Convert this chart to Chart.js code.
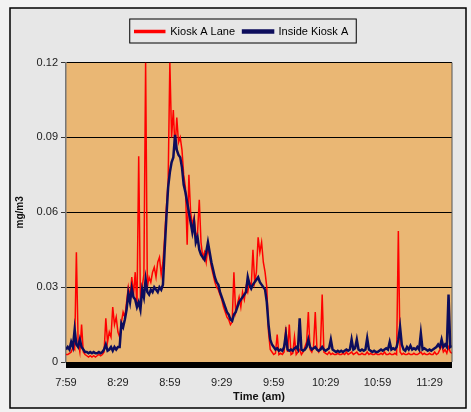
<!DOCTYPE html>
<html lang="en">
<head>
    <meta charset="UTF-8">
    <title>Kiosk A</title>
    <script src="https://cdn.jsdelivr.net/npm/chart.js"></script>
    <style>
        html, body { margin: 0; padding: 0; background: #f2f2f2; }
        .chart-box { width: 471px; height: 412px; }
    </style>
</head>
<body>
    <div class="chart-box">
        <canvas id="kioskChart" width="471" height="412"></canvas>
    </div>
    <script>
        // readings once a minute, first one at 7:59 am (mg/m3)
        const startMinute = 7 * 60 + 59;
        const tickMinutes = [0, 30, 60, 90, 120, 150, 180, 210];
        const seriesNames = ['Kiosk A Lane', 'Inside Kiosk A'];

        const kioskLane = [
            0.003, 0.003, 0.0035, 0.004, 0.006, 0.005, 0.044, 0.008, 0.004, 0.015,
            0.004, 0.003, 0.0025, 0.002, 0.0025, 0.002, 0.0025, 0.002, 0.0025, 0.003,
            0.0025, 0.003, 0.004, 0.0175, 0.008, 0.012, 0.010, 0.022, 0.015, 0.018,
            0.012, 0.010, 0.016, 0.020, 0.018, 0.024, 0.030, 0.026, 0.034, 0.027,
            0.036, 0.022, 0.0825, 0.025, 0.030, 0.035, 0.12, 0.030, 0.034, 0.032,
            0.036, 0.038, 0.034, 0.040, 0.042, 0.035, 0.040, 0.050, 0.062, 0.072,
            0.12, 0.090, 0.101, 0.085, 0.098, 0.088, 0.090, 0.085, 0.075, 0.070,
            0.047, 0.075, 0.060, 0.055, 0.058, 0.050, 0.052, 0.065, 0.048, 0.042,
            0.044, 0.040, 0.046, 0.042, 0.038, 0.035, 0.032, 0.030, 0.029, 0.027,
            0.025, 0.022, 0.020, 0.018, 0.017, 0.015, 0.016, 0.036, 0.020, 0.023,
            0.026, 0.022, 0.028, 0.025, 0.030, 0.028, 0.032, 0.030, 0.045, 0.032,
            0.036, 0.050, 0.044, 0.048, 0.040, 0.036, 0.030, 0.012, 0.005, 0.004,
            0.003, 0.0035, 0.011, 0.003, 0.0035, 0.003, 0.004, 0.014, 0.004, 0.015,
            0.003, 0.0035, 0.010, 0.003, 0.004, 0.005, 0.003, 0.004, 0.006, 0.008,
            0.020, 0.005, 0.004, 0.006, 0.020, 0.005, 0.004, 0.006, 0.027, 0.004,
            0.0035, 0.003, 0.004, 0.003, 0.0035, 0.003, 0.003, 0.0035, 0.003, 0.003,
            0.0035, 0.003, 0.004, 0.003, 0.0035, 0.004, 0.003, 0.0035, 0.004, 0.003,
            0.003, 0.0035, 0.003, 0.003, 0.004, 0.003, 0.0035, 0.003, 0.003, 0.0035,
            0.003, 0.003, 0.0035, 0.003, 0.004, 0.003, 0.003, 0.0035, 0.003, 0.003,
            0.0035, 0.003, 0.0525, 0.004, 0.003, 0.0035, 0.003, 0.003, 0.0035, 0.003,
            0.003, 0.0035, 0.003, 0.003, 0.0035, 0.004, 0.003, 0.0035, 0.003, 0.003,
            0.0035, 0.003, 0.003, 0.004, 0.003, 0.0035, 0.005, 0.007, 0.004, 0.005,
            0.0035, 0.006, 0.004, 0.0035
        ];

        const insideKiosk = [
            0.005, 0.006, 0.005, 0.008, 0.006, 0.013, 0.007, 0.006, 0.009, 0.006,
            0.005, 0.004, 0.004, 0.0035, 0.004, 0.0035, 0.004, 0.0035, 0.0035, 0.004,
            0.0035, 0.004, 0.005, 0.007, 0.0045, 0.005, 0.006, 0.0045, 0.006, 0.005,
            0.006, 0.006, 0.0155, 0.014, 0.017, 0.021, 0.0275, 0.024, 0.0295, 0.026,
            0.025, 0.022, 0.024, 0.021, 0.029, 0.026, 0.033, 0.028, 0.027, 0.029,
            0.028, 0.030, 0.029, 0.028, 0.030, 0.029, 0.031, 0.045, 0.058, 0.070,
            0.076, 0.080, 0.082, 0.091, 0.085, 0.083, 0.082, 0.078, 0.071, 0.068,
            0.064, 0.060, 0.056, 0.052, 0.056, 0.048, 0.050, 0.045, 0.043, 0.042,
            0.041, 0.044, 0.048, 0.044, 0.040, 0.037, 0.034, 0.032, 0.031, 0.028,
            0.026, 0.024, 0.022, 0.020, 0.019, 0.017, 0.0165, 0.019, 0.020, 0.022,
            0.024, 0.025, 0.026, 0.027, 0.028, 0.034, 0.031, 0.0295, 0.031, 0.032,
            0.033, 0.034, 0.032, 0.031, 0.030, 0.029, 0.024, 0.015, 0.009, 0.007,
            0.006, 0.005, 0.0055, 0.0045, 0.005, 0.0045, 0.006, 0.011, 0.005, 0.0045,
            0.005, 0.0045, 0.0055, 0.006, 0.005, 0.0175, 0.005, 0.0045, 0.005, 0.006,
            0.009, 0.006, 0.005, 0.0055, 0.006, 0.005, 0.0045, 0.005, 0.006, 0.005,
            0.0045, 0.005, 0.0055, 0.009, 0.005, 0.0045, 0.004, 0.0045, 0.004, 0.0045,
            0.004, 0.0045, 0.005, 0.0045, 0.005, 0.009, 0.005, 0.0055, 0.009, 0.005,
            0.0045, 0.005, 0.0045, 0.005, 0.0095, 0.005, 0.0045, 0.004, 0.0045, 0.004,
            0.004, 0.0045, 0.005, 0.0045, 0.005, 0.0055, 0.005, 0.008, 0.005, 0.0055,
            0.005, 0.006, 0.009, 0.014, 0.007, 0.005, 0.0045, 0.006, 0.005, 0.0065,
            0.005, 0.0055, 0.005, 0.006, 0.005, 0.0115, 0.005, 0.0055, 0.005, 0.0045,
            0.005, 0.0045, 0.005, 0.0055, 0.006, 0.007, 0.006, 0.009, 0.006, 0.007,
            0.006, 0.027, 0.006, 0.0065
        ];

        const yTicks = [0, 0.03, 0.06, 0.09, 0.12];

        function timeLabel(v) {
            const t = startMinute + v;
            const m = t % 60;
            return Math.floor(t / 60) + ':' + (m < 10 ? '0' : '') + m;
        }

        const FONT = '"Liberation Sans", Arial, sans-serif';

        // frame, plot background, bottom bar, legend box
        const framePlugin = {
            id: 'frame',
            beforeDraw(chart) {
                const c = chart.ctx;
                const a = chart.chartArea;
                c.save();
                c.fillStyle = '#f2f2f2';
                c.fillRect(0, 0, chart.width, chart.height);
                c.fillStyle = '#e7e7e7';
                c.fillRect(10, 8, 456, 400);
                c.strokeStyle = '#000';
                c.lineWidth = 1.5;
                c.strokeRect(10, 8, 456, 400);
                c.fillStyle = '#eab774';
                c.fillRect(a.left, a.top, a.right - a.left, a.bottom - a.top);
                c.restore();
            },
            afterDatasetsDraw(chart) {
                const c = chart.ctx;
                const a = chart.chartArea;
                c.save();
                c.fillStyle = '#000';
                c.fillRect(a.left, a.bottom, a.right - a.left, 6);
                c.strokeStyle = '#555';
                c.lineWidth = 1;
                c.beginPath();
                c.moveTo(a.right, a.top);
                c.lineTo(a.right, a.bottom);
                c.stroke();
                c.restore();
            },
            afterDraw(chart) {
                const boxes = chart.legend.legendHitBoxes;
                if (!boxes || !boxes.length) return;
                const c = chart.ctx;
                let l = Infinity, r = -Infinity, t = Infinity, b = -Infinity;
                boxes.forEach(h => {
                    l = Math.min(l, h.left); r = Math.max(r, h.left + h.width);
                    t = Math.min(t, h.top); b = Math.max(b, h.top + h.height);
                });
                c.save();
                c.strokeStyle = '#000';
                c.lineWidth = 1;
                c.strokeRect(l - 5, t - 7, r - l + 13, b - t + 13);
                c.restore();
            }
        };

        const ctx = document.getElementById('kioskChart').getContext('2d');
        const kioskChart = new Chart(ctx, {
            type: 'line',
            data: {
                datasets: [{
                    label: seriesNames[0],
                    data: kioskLane.map((v, i) => ({ x: i, y: v })),
                    borderColor: '#ff0000',
                    backgroundColor: '#ff0000',
                    borderWidth: 1.5,
                    pointRadius: 0,
                    tension: 0,
                    order: 1
                }, {
                    label: seriesNames[1],
                    data: insideKiosk.map((v, i) => ({ x: i, y: v })),
                    borderColor: '#0d0d5c',
                    backgroundColor: '#0d0d5c',
                    borderWidth: 2.5,
                    pointRadius: 0,
                    tension: 0,
                    order: 0
                }]
            },
            options: {
                responsive: false,
                animation: false,
                devicePixelRatio: 1,
                // left padding is wider so the legend sits a little right of centre
                layout: { padding: { left: 31, right: 19, top: 18, bottom: 6 } },
                plugins: {
                    legend: {
                        position: 'top',
                        reverse: true,
                        labels: {
                            boxWidth: 30,
                            boxHeight: 2,
                            padding: 8,
                            color: '#000',
                            font: { family: FONT, size: 11 }
                        }
                    },
                    // empty spacer between legend and plot
                    subtitle: {
                        display: true,
                        text: '',
                        weight: 900,
                        padding: 0,
                        font: { size: 13 }
                    },
                    tooltip: { enabled: false }
                },
                scales: {
                    x: {
                        type: 'linear',
                        min: 0,
                        max: 223,
                        afterBuildTicks(scale) {
                            scale.ticks = tickMinutes.map(v => ({ value: v }));
                        },
                        afterFit(scale) { scale.height = 44; },
                        grid: { display: false, drawTicks: false },
                        border: { display: false },
                        ticks: {
                            padding: 14,
                            maxRotation: 0,
                            color: '#222',
                            font: { family: FONT, size: 11 },
                            callback: v => timeLabel(v)
                        },
                        title: {
                            display: true,
                            text: 'Time (am)',
                            color: '#111',
                            padding: { top: 0, bottom: 2 },
                            font: { family: FONT, size: 11, weight: 'bold' }
                        }
                    },
                    y: {
                        min: 0,
                        max: 0.12,
                        afterBuildTicks(scale) {
                            scale.ticks = yTicks.map(v => ({ value: v }));
                        },
                        afterFit(scale) { scale.width = 35; },
                        grid: {
                            color: '#000',
                            lineWidth: 1,
                            tickLength: 5,
                            tickColor: '#333'
                        },
                        border: { color: '#777', width: 1.5 },
                        ticks: {
                            padding: 3,
                            color: '#222',
                            font: { family: FONT, size: 11 },
                            callback: v => v === 0 ? '0' : v.toFixed(2)
                        },
                        title: {
                            display: true,
                            text: 'mg/m3',
                            color: '#111',
                            padding: { top: -17, bottom: 0 },
                            font: { family: FONT, size: 10, weight: 'bold' }
                        }
                    }
                }
            },
            plugins: [framePlugin]
        });
    </script>
</body>
</html>
